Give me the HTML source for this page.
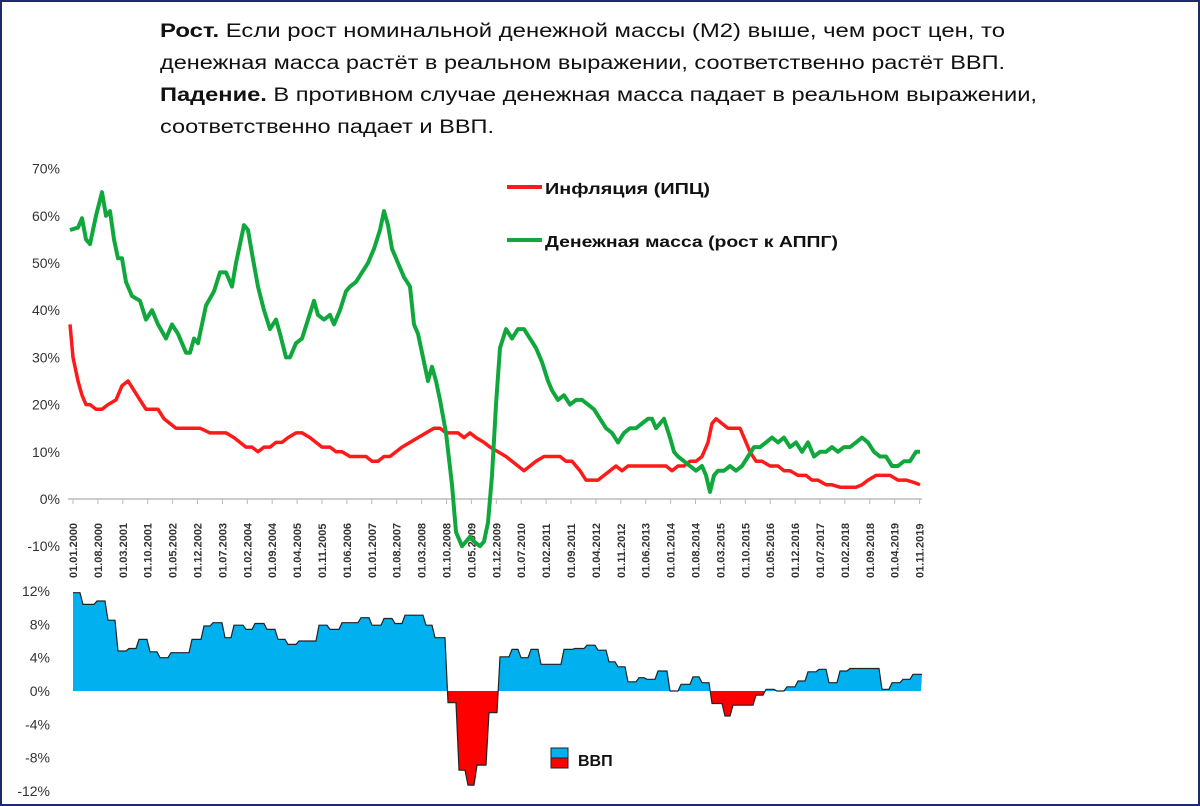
<!DOCTYPE html>
<html><head><meta charset="utf-8"><style>
html,body{margin:0;padding:0;background:#fff}
#wrap{position:relative;width:1200px;height:806px;box-sizing:border-box;border:2px solid #1f2a6b;background:#fff;overflow:hidden}
svg{position:absolute;left:-2px;top:-2px}
text{font-family:"Liberation Sans","DejaVu Sans",sans-serif}
</style></head><body><div id="wrap">
<svg id="s" width="1200" height="806" viewBox="0 0 1200 806" xmlns="http://www.w3.org/2000/svg">
<defs>
<clipPath id="cpos"><rect x="0" y="0" width="1200" height="691"/></clipPath>
<clipPath id="cneg"><rect x="0" y="691" width="1200" height="200"/></clipPath>
</defs>
<g font-size="19" fill="#111">
<text x="160" y="37" textLength="845" lengthAdjust="spacingAndGlyphs"><tspan font-weight="bold">Рост.</tspan> Если рост номинальной денежной массы (М2) выше, чем рост цен,  то</text>
<text x="160" y="69" textLength="845" lengthAdjust="spacingAndGlyphs">денежная масса растёт в реальном выражении, соответственно растёт ВВП.</text>
<text x="160" y="101" textLength="877" lengthAdjust="spacingAndGlyphs"><tspan font-weight="bold">Падение.</tspan> В противном случае денежная масса падает в реальном выражении,</text>
<text x="160" y="133" textLength="334" lengthAdjust="spacingAndGlyphs">соответственно падает и ВВП.</text>
</g>
<g font-size="14" fill="#333" text-anchor="end" id="yl"></g>
<line x1="68" y1="499" x2="922" y2="499" stroke="#bbb" stroke-width="1.5"/>
<g id="ticks" stroke="#bbb" stroke-width="1"></g>
<g id="xl" font-size="11" fill="#333" font-weight="bold"></g>
<path id="red" fill="none" stroke="#ff1a1a" stroke-width="3.5" stroke-linejoin="round"/>
<path id="green" fill="none" stroke="#10a83c" stroke-width="4" stroke-linejoin="round"/>
<line x1="507" y1="187" x2="542" y2="187" stroke="#ff1a1a" stroke-width="4"/>
<text x="545" y="194" font-size="16" font-weight="bold" fill="#111" textLength="165" lengthAdjust="spacingAndGlyphs">Инфляция (ИПЦ)</text>
<line x1="507" y1="240" x2="542" y2="240" stroke="#10a83c" stroke-width="4"/>
<text x="545" y="247" font-size="16" font-weight="bold" fill="#111" textLength="293" lengthAdjust="spacingAndGlyphs">Денежная масса (рост к АППГ)</text>
<path id="gpos" fill="#00b0ef" clip-path="url(#cpos)"/>
<path id="gneg" fill="#ff0000" clip-path="url(#cneg)"/>
<path id="gline" fill="none" stroke="#222" stroke-width="1.2"/>
<rect x="551" y="748" width="17" height="10" fill="#00b0ef" stroke="#222"/>
<rect x="551" y="758" width="17" height="10" fill="#ff0000" stroke="#222"/>
<text x="578" y="766" font-size="16" font-weight="bold" fill="#111">ВВП</text>
</svg></div>
<script>
var NS="http://www.w3.org/2000/svg";
function el(t,a,txt,p){var e=document.createElementNS(NS,t);for(var k in a)e.setAttribute(k,a[k]);if(txt!=null)e.textContent=txt;document.getElementById(p).appendChild(e);return e;}
[70,60,50,40,30,20,10,0,-10].forEach(function(v){el("text",{x:60,y:499-4.72*v+5},v+"%","yl");});
[12,8,4,0,-4,-8,-12].forEach(function(v){el("text",{x:50,y:691-8.33*v+5},v+"%","yl");});
for(var i=0;i<35;i++){var m=i*7,yr=2000+Math.floor(m/12),mo=m%12+1;var x=73+i*24.9;
el("line",{x1:x,y1:499,x2:x,y2:504},null,"ticks");
el("text",{x:0,y:0,transform:"translate("+(x+4)+",578) rotate(-90)"},"01."+(mo<10?"0":"")+mo+"."+yr,"xl");}
var G=[70,57,78,57.5,82,59.5,86,55,90,54,96,60,102,65,106,60,110,61,114,55,118,51,122,51,126,46,132,43,140,42,146,38,152,40,158,37,166,34,172,37,178,35,186,31,190,31,194,34,198,33,206,41,214,44,220,48,226,48,232,45,236,50,244,58,248,57,252,52,258,45,264,40,270,36,276,38,280,35,286,30,290,30,296,33,302,34,308,38,314,42,318,39,324,38,330,39,334,37,340,40,346,44,350,45,356,46,362,48,368,50,374,53,380,57,384,61,388,58,392,53,398,50,404,47,410,45,414,37,418,35,424,29,428,25,432,28,436,25,440,21,446,14,452,3,456,-7,462,-10,466,-9,470,-8,474,-9,480,-10,484,-9,488,-5,492,5,496,20,500,32,506,36,512,34,518,36,524,36,530,34,536,32,542,29,548,25,552,23,558,21,564,22,570,20,576,21,582,21,588,20,594,19,600,17,606,15,612,14,618,12,624,14,630,15,636,15,642,16,648,17,652,17,656,15,660,16,664,17,670,13,674,10,678,9,684,8,690,7,696,6,702,7,706,5,710,1.5,714,5,718,6,724,6,730,7,736,6,742,7,748,9,754,11,760,11,766,12,772,13,778,12,784,13,790,11,796,12,802,10,808,12,814,9,820,10,826,10,832,11,838,10,844,11,850,11,856,12,862,13,868,12,874,10,880,9,886,9,892,7,898,7,904,8,910,8,916,10,920,10];
var R=[70,37,73,30,78,25,82,22,86,20,90,20,96,19,102,19,108,20,116,21,122,24,128,25,134,23,140,21,146,19,152,19,158,19,164,17,170,16,176,15,190,15,200,15,210,14,218,14,226,14,234,13,240,12,246,11,252,11,258,10,264,11,270,11,276,12,282,12,288,13,296,14,302,14,310,13,316,12,322,11,330,11,336,10,342,10,350,9,358,9,366,9,372,8,378,8,384,9,390,9,396,10,402,11,410,12,418,13,426,14,434,15,440,15,446,14,452,14,458,14,464,13,470,14,476,13,484,12,490,11,498,10,506,9,512,8,518,7,524,6,530,7,536,8,544,9,552,9,560,9,566,8,572,8,580,6,586,4,592,4,598,4,604,5,610,6,616,7,622,6,628,7,634,7,640,7,646,7,652,7,660,7,666,7,672,6,678,7,684,7,690,8,696,8,702,9,708,12,712,16,716,17,722,16,728,15,734,15,740,15,744,13,750,10,756,8,762,8,770,7,778,7,784,6,790,6,798,5,806,5,812,4,818,4,826,3,832,3,840,2.5,848,2.5,856,2.5,862,3,868,4,876,5,884,5,890,5,898,4,906,4,914,3.5,920,3];
function line(a){var d="";for(var i=0;i<a.length;i+=2)d+=(i?"L":"M")+a[i]+" "+(499-4.72*a[i+1]).toFixed(1);return d;}
document.getElementById("green").setAttribute("d",line(G));
document.getElementById("red").setAttribute("d",line(R));
var S=[73,11.8,82,10.4,96,10.8,107,8.5,117,4.8,128,5.1,138,6.2,149,4.7,159,4.0,170,4.6,191,6.2,203,7.8,212,8.2,224,6.4,233,7.9,245,7.4,254,8.1,266,7.4,277,6.2,287,5.6,298,6.0,318,7.9,329,7.4,341,8.2,360,8.8,371,7.9,383,8.7,394,8.1,404,9.1,425,7.9,434,6.4,447,-1.4,458,-9.5,467,-11.3,476,-8.9,488,-2.6,499,4.1,511,5.0,520,4.0,530,5.0,540,3.2,563,5.0,574,5.1,586,5.5,597,4.9,608,3.5,617,2.9,627,1.1,638,1.6,646,1.4,657,2.4,669,0,680,0.8,692,1.7,701,1.0,711,-1.5,724,-3.0,732,-1.7,755,-0.5,765,0.2,776,0,786,0.5,797,1.2,807,2.3,818,2.6,828,1.0,839,2.4,849,2.7,881,0.2,891,1.0,902,1.4,912,2.0,921,2.0];
var d="",py;for(var i=0;i<S.length;i+=2){var x=S[i],y=(691-8.33*S[i+1]).toFixed(1);
if(i==0)d="M"+x+" "+y;else{d+="L"+(x-2)+" "+py+"L"+(x+1)+" "+y;}py=y;}
document.getElementById("gline").setAttribute("d",d);
var f=d+"L921 691L73 691Z";
document.getElementById("gpos").setAttribute("d",f);
document.getElementById("gneg").setAttribute("d",f);
</script>
</body></html>
